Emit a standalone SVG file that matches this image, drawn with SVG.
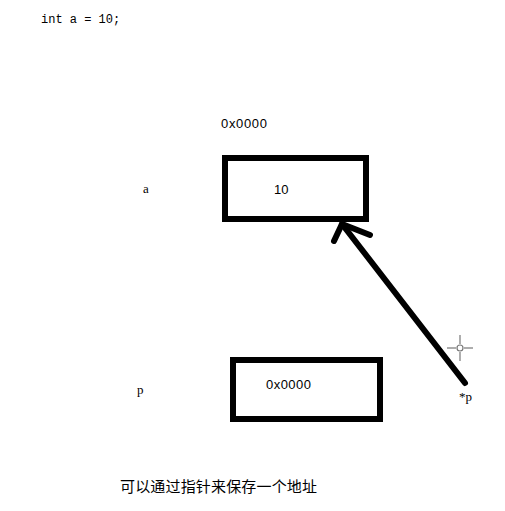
<svg xmlns="http://www.w3.org/2000/svg" width="505" height="511" viewBox="0 0 505 511">
<style>
.mono{font-family:"Liberation Mono","DejaVu Sans Mono",monospace;font-size:12px;fill:#000}
.serif{font-family:"Liberation Serif","Times New Roman",serif;font-size:13px;fill:#000}
.sans{font-family:"Liberation Sans",Arial,sans-serif;font-size:13px;fill:#000}
.cjk{font-family:"Liberation Sans","Noto Sans CJK SC",sans-serif;font-size:15px;fill:#000}
.box{fill:#fff;stroke:#000;stroke-width:6}
.conn{stroke:#000;stroke-width:6;stroke-linecap:round;stroke-linejoin:round;fill:none}
</style>
<rect width="505" height="511" fill="#fff"/>
<text class="mono" x="41" y="23">int a = 10;</text>
<g id="node-a">
<text class="sans" x="221" y="128" textLength="46">0x0000</text>
<text class="serif" x="143" y="193">a</text>
<rect class="box" x="225" y="158" width="141" height="61"/>
<text class="sans" x="274" y="194">10</text>
</g>
<g id="node-p">
<text class="serif" x="137" y="394">p</text>
<rect class="box" x="233" y="360" width="147" height="59"/>
<text class="sans" x="266" y="389" textLength="45">0x0000</text>
</g>
<g id="connectors">
<path class="conn" d="M465 383 L342 224"/>
<path class="conn" d="M334 241 L342 224 L370 235"/>
<text class="serif" x="459" y="401">*p</text>
</g>
<g id="cursor" stroke="#777" stroke-width="1.2" fill="none">
<line x1="447" y1="348" x2="456" y2="348"/>
<line x1="464" y1="348" x2="473" y2="348"/>
<line x1="460" y1="335" x2="460" y2="344"/>
<line x1="460" y1="352" x2="460" y2="361"/>
<circle cx="460" cy="348" r="3"/>
</g>
<text class="cjk" x="120" y="492" textLength="197">可以通过指针来保存一个地址</text>
</svg>
